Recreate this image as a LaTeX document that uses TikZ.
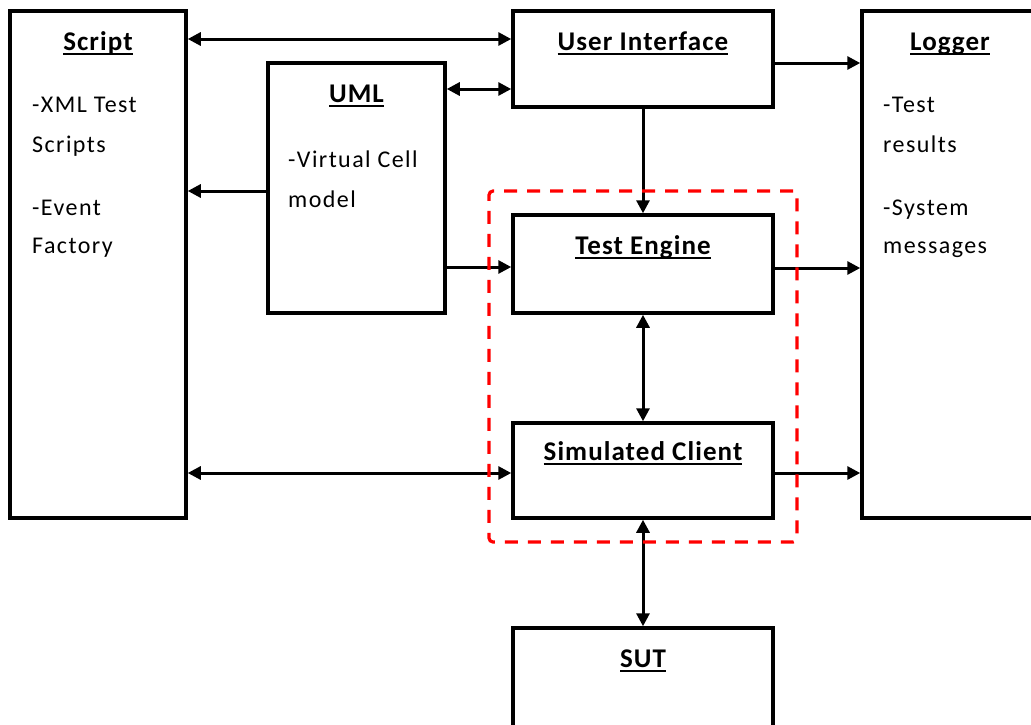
\documentclass[tikz,border=0pt]{standalone}
\usepackage{fontspec}
\setmainfont{Carlito}
\newfontfamily\titlefam[LetterSpace=4]{Carlito}
\newfontfamily\bodyfam[LetterSpace=6]{Carlito}
\usetikzlibrary{arrows.meta,fit}
% underlined heading at a fixed distance below the baseline
\newcommand\ulhead[1]{\setbox0\hbox{#1}\rlap{\rule[-4.5pt]{\wd0}{2pt}}\box0}
\tikzset{
  box/.style={draw, line width=3.5pt, anchor=north west, inner sep=0pt, outer sep=0pt},
  head/.style={anchor=base, inner sep=0pt, font=\titlefam\bfseries\fontsize{27}{30}\selectfont},
  body/.style={anchor=base west, inner sep=0pt, font=\bodyfam\fontsize{24}{28}\selectfont},
  tip/.tip={Triangle[length=13pt,width=13pt]},
  arr/.style={line width=3pt, shorten >=1.75pt, -tip},
  darr/.style={line width=3pt, shorten >=1.75pt, shorten <=1.75pt, tip-tip},
  group/.style={draw=red, line width=3.2pt, dash pattern=on 13pt off 10pt, rounded corners=4pt, inner sep=24pt}
}
\begin{document}
\begin{tikzpicture}[x=1pt,y=-1pt]
\useasboundingbox (0,0) rectangle (1031,724);
\clip (0,0) rectangle (1031,724);

% blocks
\node[box, minimum width=176pt, minimum height=507pt] (script) at (10,11) {};
\node[box, minimum width=177pt, minimum height=250pt] (uml) at (268,63) {};
\node[box, minimum width=260pt, minimum height=96pt] (ui) at (513,11) {};
\node[box, minimum width=260pt, minimum height=98pt] (te) at (513,215) {};
\node[box, minimum width=260pt, minimum height=95pt] (sc) at (513,423) {};
\node[box, minimum width=260pt, minimum height=130pt] (sut) at (513,628) {};
\node[box, minimum width=176pt, minimum height=507pt] (logger) at (862,11) {};

% headings
\node[head] (script-h) at (98,50) {\ulhead{Script}};
\node[head] (uml-h) at (356.5,102) {\ulhead{UML}};
\node[head] (ui-h) at (643,50) {\ulhead{User Interface}};
\node[head] (te-h) at (643,254) {\ulhead{Test Engine}};
\node[head] (sc-h) at (643,460) {\ulhead{Simulated Client}};
\node[head] (sut-h) at (643,667) {\ulhead{SUT}};
\node[head] (logger-h) at (950,50) {\ulhead{Logger}};

% item lists
\node[body] (script-1) at (32,112) {-XML Test};
\node[body] (script-2) at (32,152) {Scripts};
\node[body] (script-3) at (32,215) {-Event};
\node[body] (script-4) at (32,253) {Factory};
\node[body] (uml-1) at (288,167) {-Virtual Cell};
\node[body] (uml-2) at (288,207) {model};
\node[body] (logger-1) at (883,112) {-Test};
\node[body] (logger-2) at (883,152) {results};
\node[body] (logger-3) at (883,215) {-System};
\node[body] (logger-4) at (883,253) {messages};

% connectors
\draw[darr] (script.east |- 0,39) -- (ui.west |- 0,39);
\draw[darr] (uml.east |- 0,89) -- (ui.west |- 0,89);
\draw[arr] (ui.east |- 0,63) -- (logger.west |- 0,63);
\draw[arr] (uml.west |- 0,191) -- (script.east |- 0,191);
\draw[arr] (uml.east |- 0,267) -- (te.west |- 0,267);
\draw[arr] (ui.south) -- (te.north);
\draw[arr] (te.east |- 0,268) -- (logger.west |- 0,268);
\draw[darr] (te.south) -- (sc.north);
\draw[darr] (script.east |- 0,473) -- (sc.west |- 0,473);
\draw[arr] (sc.east |- 0,473) -- (logger.west |- 0,473);
\draw[darr] (sc.south) -- (sut.north);

% dashed frame round the engine and the client
\node[group, fit=(te)(sc)] (core) {};
\end{tikzpicture}
\end{document}
